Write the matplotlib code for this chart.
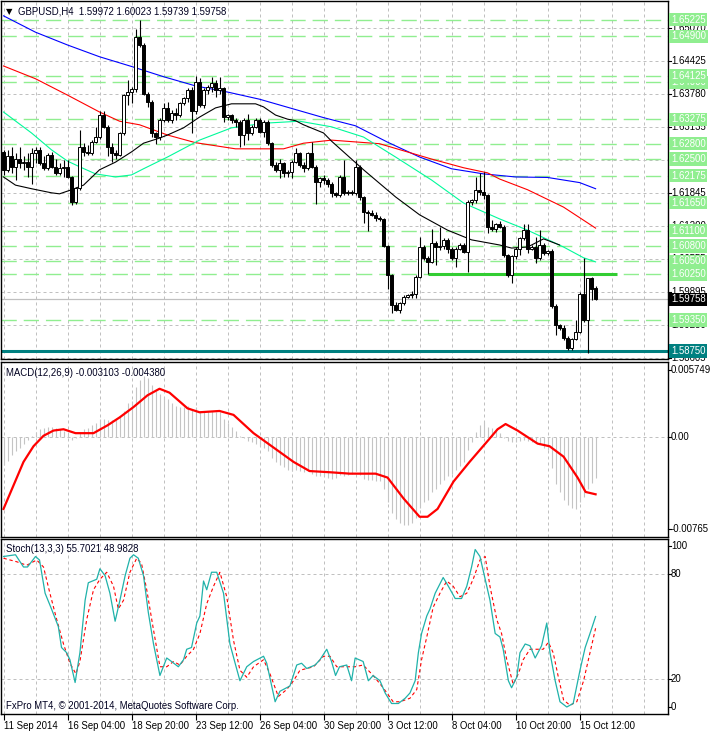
import matplotlib
matplotlib.use('Agg')
import matplotlib.pyplot as plt
from matplotlib.patches import Rectangle
import matplotlib.transforms as mtransforms

plt.rcParams['font.family'] = ['Liberation Sans', 'DejaVu Sans']

# ---------------- data (H4 bars, bar 0 = 11 Sep 2014) ----------------
opens = [1.6264, 1.6228, 1.6255, 1.6235, 1.6251, 1.6242, 1.6245, 1.6235, 1.6261, 1.6268,
         1.6242, 1.6232, 1.6258, 1.6235, 1.6222, 1.6232, 1.6235, 1.6215, 1.6166, 1.6194,
         1.6274, 1.6264, 1.6262, 1.6284, 1.6294, 1.6336, 1.6313, 1.6274, 1.6261, 1.6258,
         1.6300, 1.6375, 1.6382, 1.6386, 1.6488, 1.6473, 1.6378, 1.6362, 1.6300, 1.6294,
         1.6326, 1.6349, 1.6326, 1.6341, 1.6336, 1.6359, 1.6369, 1.6385, 1.6343, 1.6401,
         1.6356, 1.6385, 1.6391, 1.6398, 1.6385, 1.6388, 1.6333, 1.6336, 1.6326, 1.6323,
         1.6297, 1.6326, 1.6300, 1.6313, 1.6326, 1.6303, 1.6323, 1.6281, 1.6238, 1.6228,
         1.6242, 1.6222, 1.6225, 1.6245, 1.6261, 1.6238, 1.6232, 1.6261, 1.6235, 1.6206,
         1.6212, 1.6209, 1.6202, 1.6183, 1.6180, 1.6215, 1.6184, 1.6186, 1.6183, 1.6235,
         1.6176, 1.6147, 1.6144, 1.6141, 1.6134, 1.6132, 1.6080, 1.6023, 1.5964, 1.5955,
         1.5968, 1.5981, 1.5984, 1.5987, 1.6020, 1.6078, 1.6056, 1.6049, 1.6086, 1.6078,
         1.6080, 1.6092, 1.6075, 1.6056, 1.6075, 1.6082, 1.6069, 1.6167, 1.6170, 1.6189,
         1.6186, 1.6179, 1.6118, 1.6114, 1.6123, 1.6118, 1.6062, 1.6023, 1.6060, 1.6075,
         1.6095, 1.6111, 1.6075, 1.6078, 1.6056, 1.6082, 1.6066, 1.6071, 1.5963, 1.5925,
         1.5919, 1.5901, 1.5880, 1.5899, 1.5912, 1.5986, 1.5935, 1.6017, 1.59972]
highs = [1.6268, 1.6268, 1.6274, 1.6261, 1.6274, 1.6255, 1.6261, 1.6271, 1.6274, 1.6274,
         1.6255, 1.6261, 1.6264, 1.6251, 1.6242, 1.6248, 1.6248, 1.6217, 1.6196, 1.6307,
         1.6281, 1.6277, 1.6287, 1.6313, 1.6343, 1.6343, 1.6316, 1.6281, 1.6268, 1.6303,
         1.6378, 1.6405, 1.6391, 1.6504, 1.6522, 1.6476, 1.6382, 1.6365, 1.6303, 1.6330,
         1.6359, 1.6362, 1.6346, 1.6349, 1.6362, 1.6372, 1.6388, 1.6391, 1.6412, 1.6408,
         1.6388, 1.6395, 1.6410, 1.6404, 1.6410, 1.6391, 1.6339, 1.6339, 1.6330, 1.6326,
         1.6330, 1.6339, 1.6316, 1.6330, 1.6330, 1.6326, 1.6326, 1.6284, 1.6245, 1.6251,
         1.6245, 1.6228, 1.6248, 1.6271, 1.6264, 1.6245, 1.6264, 1.6284, 1.6238, 1.6215,
         1.6219, 1.6212, 1.6205, 1.6186, 1.6219, 1.6249, 1.6189, 1.6190, 1.6248, 1.6238,
         1.6178, 1.6150, 1.6150, 1.6147, 1.6138, 1.6134, 1.6082, 1.6026, 1.5970, 1.5971,
         1.5984, 1.5987, 1.5992, 1.6023, 1.6097, 1.6082, 1.6060, 1.6114, 1.6089, 1.6118,
         1.6095, 1.6095, 1.6078, 1.6078, 1.6086, 1.6086, 1.6170, 1.6172, 1.6215, 1.6222,
         1.6225, 1.6182, 1.6131, 1.6125, 1.6128, 1.6122, 1.6065, 1.6062, 1.6078, 1.6097,
         1.6123, 1.6123, 1.6082, 1.6097, 1.6111, 1.6085, 1.6072, 1.6074, 1.5966, 1.5928,
         1.5925, 1.5904, 1.5901, 1.5935, 1.5990, 1.6056, 1.6017, 1.6019, 1.60023]
lows = [1.6219, 1.6225, 1.6222, 1.6209, 1.6232, 1.6228, 1.6215, 1.6202, 1.6242, 1.6238,
        1.6228, 1.6228, 1.6232, 1.6219, 1.6219, 1.6215, 1.6212, 1.6160, 1.6163, 1.6189,
        1.6255, 1.6258, 1.6258, 1.6281, 1.6290, 1.6310, 1.6255, 1.6245, 1.6251, 1.6255,
        1.6297, 1.6356, 1.6359, 1.6382, 1.6470, 1.6375, 1.6352, 1.6294, 1.6279, 1.6287,
        1.6323, 1.6323, 1.6320, 1.6326, 1.6333, 1.6356, 1.6362, 1.6300, 1.6339, 1.6352,
        1.6349, 1.6378, 1.6382, 1.6372, 1.6378, 1.6323, 1.6326, 1.6320, 1.6313, 1.6274,
        1.6277, 1.6287, 1.6297, 1.6310, 1.6300, 1.6294, 1.6277, 1.6235, 1.6225, 1.6212,
        1.6215, 1.6215, 1.6212, 1.6242, 1.6235, 1.6225, 1.6228, 1.6232, 1.6163, 1.6196,
        1.6202, 1.6196, 1.6176, 1.6176, 1.6175, 1.6180, 1.6180, 1.6180, 1.6180, 1.6170,
        1.6125, 1.6110, 1.6138, 1.6128, 1.6128, 1.6078, 1.5996, 1.5949, 1.5952, 1.5950,
        1.5965, 1.5978, 1.5978, 1.5978, 1.6017, 1.6052, 1.6026, 1.6046, 1.6043, 1.6072,
        1.6075, 1.6066, 1.6052, 1.6039, 1.6072, 1.6066, 1.6030, 1.6160, 1.6165, 1.6180,
        1.6172, 1.6105, 1.6110, 1.6108, 1.6115, 1.6059, 1.6019, 1.6007, 1.6055, 1.6062,
        1.6092, 1.6067, 1.6072, 1.6046, 1.6052, 1.6062, 1.6062, 1.5958, 1.5906, 1.5915,
        1.5897, 1.5876, 1.5877, 1.5896, 1.5909, 1.5932, 1.5871, 1.5975, 1.59739]
closes = [1.6228, 1.6255, 1.6235, 1.6251, 1.6242, 1.6245, 1.6235, 1.6261, 1.6268, 1.6242,
          1.6232, 1.6258, 1.6235, 1.6222, 1.6232, 1.6235, 1.6215, 1.6166, 1.6194, 1.6274,
          1.6264, 1.6262, 1.6284, 1.6294, 1.6336, 1.6313, 1.6274, 1.6261, 1.6258, 1.6300,
          1.6375, 1.6382, 1.6386, 1.6488, 1.6473, 1.6378, 1.6362, 1.6300, 1.6294, 1.6326,
          1.6349, 1.6326, 1.6341, 1.6336, 1.6359, 1.6369, 1.6385, 1.6343, 1.6401, 1.6356,
          1.6385, 1.6391, 1.6398, 1.6385, 1.6388, 1.6333, 1.6336, 1.6326, 1.6323, 1.6297,
          1.6326, 1.6300, 1.6313, 1.6326, 1.6303, 1.6323, 1.6281, 1.6238, 1.6228, 1.6242,
          1.6222, 1.6225, 1.6245, 1.6261, 1.6238, 1.6232, 1.6261, 1.6235, 1.6206, 1.6212,
          1.6209, 1.6202, 1.6183, 1.6180, 1.6215, 1.6184, 1.6186, 1.6183, 1.6235, 1.6176,
          1.6147, 1.6144, 1.6141, 1.6134, 1.6132, 1.6080, 1.6023, 1.5964, 1.5955, 1.5968,
          1.5981, 1.5984, 1.5987, 1.6020, 1.6078, 1.6056, 1.6049, 1.6086, 1.6078, 1.6080,
          1.6092, 1.6075, 1.6056, 1.6075, 1.6082, 1.6069, 1.6167, 1.6170, 1.6189, 1.6186,
          1.6179, 1.6118, 1.6114, 1.6123, 1.6118, 1.6062, 1.6023, 1.6060, 1.6075, 1.6095,
          1.6111, 1.6075, 1.6078, 1.6056, 1.6082, 1.6066, 1.6071, 1.5963, 1.5925, 1.5919,
          1.5901, 1.5880, 1.5899, 1.5912, 1.5986, 1.5935, 1.6017, 1.5995, 1.59758]

# moving averages (bar index, value)
ma_blue = [(0, 1.6530), (8, 1.6498), (16, 1.6473), (24, 1.6450), (32, 1.6431), (40, 1.6411),
           (48, 1.6393), (56, 1.6381), (64, 1.6367), (72, 1.6349), (80, 1.6331), (88, 1.6315),
           (96, 1.6283), (104, 1.6254), (112, 1.6231), (120, 1.6221), (128, 1.6215),
           (136, 1.6214), (144, 1.6204), (148, 1.6192)]
ma_red = [(0, 1.6432), (8, 1.6407), (16, 1.6375), (24, 1.6342), (29, 1.6324), (34, 1.6317),
          (41, 1.6297), (48, 1.6282), (53, 1.6276), (58, 1.6270), (70, 1.6270), (75, 1.6281),
          (82, 1.6287), (94, 1.6280), (107, 1.6250), (115, 1.6233), (121, 1.6223),
          (124, 1.6211), (131, 1.6190), (140, 1.6156), (148, 1.6115)]
ma_green = [(0, 1.6342), (7, 1.6301), (12, 1.6268), (16, 1.6246), (19, 1.6235), (23, 1.6221),
            (28, 1.6215), (32, 1.6219), (35, 1.6231), (41, 1.6254), (49, 1.6287), (57, 1.6311),
            (65, 1.6320), (74, 1.6324), (82, 1.6313), (90, 1.6293), (98, 1.6254), (107, 1.6209),
            (115, 1.6164), (124, 1.6133), (131, 1.6111), (140, 1.6078), (145, 1.6057),
            (148, 1.6049)]
ma_black = [(0, 1.6215), (3, 1.6199), (7, 1.6192), (12, 1.6184), (14, 1.6182), (17, 1.6190),
            (20, 1.6199), (24, 1.6229), (28, 1.6244), (32, 1.6264), (35, 1.6281), (39, 1.6291),
            (41, 1.6297), (45, 1.6311), (49, 1.6332), (53, 1.6350), (57, 1.6358), (63, 1.6358),
            (65, 1.6352), (68, 1.6336), (71, 1.6328), (73, 1.6325), (75, 1.6317), (80, 1.6301),
            (82, 1.6285), (90, 1.6229), (98, 1.6176), (104, 1.6141), (111, 1.6111),
            (117, 1.6092), (124, 1.6082), (127, 1.6076), (131, 1.6078), (135, 1.6094),
            (139, 1.6082)]

levels_green = [1.59350, 1.60250, 1.60500, 1.60800, 1.61100, 1.61650, 1.62175, 1.62500,
                1.62800, 1.63275, 1.64000, 1.64125, 1.64900, 1.65225]
level_support = 1.58750
level_bid = 1.59758
level_resist = 1.60250
price_ticks = [1.65070, 1.64425, 1.63780, 1.63135, 1.62490, 1.61845, 1.61200, 1.60555,
               1.59895, 1.59250, 1.58605]

# MACD main (histogram) per bar
macd_hist = [-0.0021, -0.0018, -0.0014, -0.0011, -0.0008, -0.0005, -0.0002, 0.0001, 0.0004, 0.0006,
             0.0007, 0.0008, 0.0008, 0.0007, 0.0006, 0.0005, 0.0002, -0.0002, -0.0001, 0.0004,
             0.0006, 0.0007, 0.0009, 0.0011, 0.0014, 0.0014, 0.0013, 0.0013, 0.0013, 0.0015,
             0.0020, 0.0026, 0.0028, 0.0038, 0.0044, 0.0047, 0.0045, 0.0040, 0.0035, 0.0033,
             0.0031, 0.0029, 0.0026, 0.0024, 0.0023, 0.0023, 0.0024, 0.0021, 0.0023, 0.0020,
             0.0020, 0.0020, 0.0020, 0.0019, 0.0019, 0.0014, 0.0011, 0.0008, 0.0005, 0.0001,
             -0.0001, -0.0003, -0.0004, -0.0005, -0.0007, -0.0008, -0.0011, -0.0016, -0.0019, -0.0021,
             -0.0023, -0.0025, -0.0026, -0.0025, -0.0026, -0.0027, -0.0026, -0.0028, -0.0030, -0.0030,
             -0.0030, -0.0031, -0.0032, -0.0031, -0.0029, -0.0030, -0.0029, -0.0028, -0.0026, -0.0029,
             -0.0032, -0.0033, -0.0033, -0.0034, -0.0034, -0.0040, -0.0050, -0.0058, -0.0063, -0.0066,
             -0.0067, -0.0067, -0.0066, -0.0062, -0.0054, -0.0050, -0.0048, -0.0042, -0.0040, -0.0036,
             -0.0033, -0.0030, -0.0028, -0.0025, -0.0022, -0.0019, -0.0010, -0.0004, 0.0004, 0.0009,
             0.0012, 0.0008, 0.0007, 0.0005, 0.0003, -0.0001, -0.0003, -0.0004, -0.0004, -0.0003,
             -0.0002, -0.0003, -0.0004, -0.0004, -0.0005, -0.0008, -0.0010, -0.0024, -0.0036, -0.0042,
             -0.0048, -0.0052, -0.0054, -0.0055, -0.0050, -0.0046, -0.0040, -0.0035, -0.0031]
macd_signal = [(0, -0.0055), (2.5, -0.0037), (5, -0.0019), (7.5, -0.0007), (10, 0.0001),
               (12.5, 0.0005), (15, 0.0006), (18, 0.0003), (22.5, 0.0003), (26, 0.0009),
               (29, 0.0015), (32.5, 0.0023), (36, 0.0032), (39, 0.0037), (41.5, 0.0034),
               (46, 0.0022), (49, 0.0019), (54, 0.0020), (57.5, 0.0017), (62.5, 0.0003),
               (67.5, -0.0008), (72.5, -0.0019), (76.5, -0.0026), (82, -0.0027), (86.5, -0.0028),
               (93, -0.0028), (96, -0.0031), (100, -0.0047), (104, -0.0061), (106, -0.0061),
               (108.5, -0.0055), (112.5, -0.0034), (116.5, -0.0019), (121, -0.0003),
               (123.5, 0.0006), (125.5, 0.0010), (128.5, 0.0005), (133.5, -0.0005),
               (136.5, -0.0007), (140, -0.0015), (143.5, -0.0031), (145.5, -0.0042),
               (148, -0.00438)]

# Stochastic %K and %D (bar index, value)
stoch_k = [(0, 90), (3, 91), (5, 84), (6, 84), (8, 90), (9, 88), (10.4, 69), (12, 60), (13.7, 50),
           (14.5, 38), (15.8, 35), (16.6, 31), (17.9, 18), (19.1, 35), (20.4, 65), (21.2, 75),
           (23.3, 77), (24.1, 83), (25.4, 79), (26.6, 69), (27.9, 53), (29.1, 65), (30.4, 79),
           (31.6, 89), (32.5, 91), (33.7, 89), (35, 79), (36.2, 58), (37.5, 40), (39.1, 22),
           (40.8, 32), (42, 30), (43.7, 27), (45, 31), (45.8, 37), (47, 38), (48.3, 52),
           (49.1, 56), (50, 76), (50.8, 71), (52, 81), (53.3, 81), (55, 69), (56.6, 40),
           (57.9, 29), (59.1, 19), (60.8, 27), (62.5, 30), (65, 33), (65.8, 29), (67.9, 7),
           (69.1, 13), (71.6, 16), (73.3, 28), (74.5, 29), (75.8, 26), (77.9, 28), (79.1, 31),
           (80.8, 37), (82, 30), (83, 22), (84, 27), (85.8, 28), (87, 19), (87.9, 32), (89.9, 30),
           (91.2, 19), (92.4, 22), (94.1, 19), (95.4, 12), (97, 6), (98.7, 6), (100.4, 9),
           (101.6, 12), (102.9, 19), (103.7, 35), (104.5, 46), (105.8, 56), (106.6, 60),
           (107.9, 69), (109.9, 78), (111.2, 73), (112.9, 66), (114.5, 66), (115.8, 73),
           (117, 84), (117.9, 94), (119.1, 90), (119.9, 82), (121.6, 65), (122.9, 46),
           (124.1, 44), (124.9, 37), (126.2, 19), (127, 15), (128.3, 21), (129.1, 35),
           (130.4, 40), (131.6, 39), (132.9, 32), (134.5, 39), (135.8, 52), (136.6, 35),
           (137.9, 19), (139.1, 7), (140.8, 4), (142.4, 6), (144.1, 25), (145.4, 38),
           (146.6, 46), (148, 55.7)]
stoch_d = [(0, 89), (3.3, 87), (5.8, 85), (8.3, 88), (10, 84), (11.6, 69), (13.3, 54), (15, 40),
           (16.6, 29), (18.1, 23), (19.1, 30), (20.8, 54), (22.5, 71), (24.1, 77), (25.8, 81),
           (27.5, 73), (28.7, 60), (30, 65), (31.6, 81), (33.3, 89), (34.5, 86), (35.8, 71),
           (37.5, 48), (39.1, 27), (40.8, 27), (42.5, 30), (44.1, 28), (45.8, 33), (47.5, 37),
           (49.1, 46), (50.8, 63), (52.5, 73), (54.1, 81), (55.8, 67), (57.5, 42), (59.1, 25),
           (60.8, 21), (62.5, 27), (65, 31), (66.6, 23), (68.7, 10), (70.8, 14), (72.5, 19),
           (74.1, 25), (75.8, 26), (77.5, 27), (80, 33), (81.6, 33), (83.3, 27), (85.8, 27),
           (87.9, 27), (89.9, 28), (92.4, 22), (94.9, 15), (97.4, 7), (99.1, 7), (101.6, 9),
           (103.3, 14), (104.5, 31), (105.8, 44), (107.4, 61), (109.1, 69), (110.8, 76),
           (112.4, 73), (114.1, 67), (115.8, 69), (117.4, 77), (119.1, 88), (120.4, 90),
           (121.6, 73), (123.3, 54), (124.5, 46), (125.8, 31), (127.4, 17), (128.7, 23),
           (129.9, 31), (131.6, 37), (133.3, 37), (134.9, 37), (136.2, 41), (137.4, 35),
           (138.7, 21), (140, 8), (141.6, 5), (143.3, 7), (145, 19), (146.6, 35), (148, 48.98)]

date_labels = ['11 Sep 2014', '16 Sep 04:00', '18 Sep 20:00', '23 Sep 12:00', '26 Sep 04:00',
               '30 Sep 20:00', '3 Oct 12:00', '8 Oct 04:00', '10 Oct 20:00', '15 Oct 12:00']
date_bars = [0, 16, 32, 48, 64, 80, 96, 112, 128, 144]

# ---------------- figure ----------------
W, H = 712, 732
fig = plt.figure(figsize=(W / 100, H / 100), dpi=100)
fig.patch.set_facecolor('white')

def px_axes(left, top, right, bottom):
    return fig.add_axes([left / W, 1 - bottom / H, (right - left) / W, (bottom - top) / H])

ax = px_axes(1, 1, 668, 359)
ax_m = px_axes(1, 362, 668, 537)
ax_s = px_axes(1, 539, 668, 714)

GRID = '#c0c0c0'
FS = 6.9
XMIN, XMAX = -0.625, 166.1

for a in (ax, ax_m, ax_s):
    a.set_xlim(XMIN, XMAX)
    a.set_xticks([])
    a.set_yticks([])
    for s in a.spines.values():
        s.set_color('black')
        s.set_linewidth(1.0)
    for gx in range(0, 167, 8):
        a.axvline(gx, color=GRID, lw=0.72, ls=(0, (3, 3)), zorder=0.5)

def right_label(a, y, text, fc=None, tc='black', coords='data'):
    if coords == 'data':
        tr = mtransforms.blended_transform_factory(a.transAxes, a.transData)
    else:
        tr = a.transAxes
    kw = {}
    if fc is not None:
        kw['bbox'] = dict(boxstyle='square,pad=0.18', fc=fc, ec='none')
    a.text(1.0045, y, text, transform=tr, fontsize=FS, color=tc, ha='left', va='center',
           clip_on=False, zorder=6 if fc else 5, **kw)
    a.plot([1.0, 1.0045], [y, y], transform=tr, color='black', lw=0.8, clip_on=False)

# ---- main price panel ----
ax.set_ylim(1.58591, 1.65590)
for t in price_ticks:
    ax.axhline(t, color=GRID, lw=0.72, ls=(0, (3, 3)), zorder=0.5)
    right_label(ax, t, '%.5f' % t)
for lv in levels_green:
    ax.axhline(lv, color='#90ee90', lw=1.0, dashes=(11, 5), zorder=1)
ax.axhline(level_bid, color=GRID, lw=0.9, zorder=1.2)
ax.axhline(level_support, color='#008080', lw=2.2, zorder=1.5)
ax.plot([106, 153.4], [level_resist, level_resist], color='#32cd32', lw=2.2, zorder=1.5,
        solid_capstyle='butt')

for pts, col in ((ma_blue, '#0000ff'), (ma_red, '#ff0000'), (ma_green, '#00fa9a'),
                 (ma_black, '#000000')):
    xs, ys = zip(*pts)
    ax.plot(xs, ys, color=col, lw=0.8, zorder=2)

bw = 0.72
for i, (o, h, l, c) in enumerate(zip(opens, highs, lows, closes)):
    ax.vlines(i, l, h, color='black', lw=0.8, zorder=3)
    lo, hi = min(o, c), max(o, c)
    if hi - lo < 0.00004:
        hi = lo + 0.00004
    fc = 'white' if c >= o else 'black'
    ax.add_patch(Rectangle((i - bw / 2, lo), bw, hi - lo, fc=fc, ec='black', lw=0.7,
                           zorder=4))

for lv in levels_green:
    right_label(ax, lv, '%.5f' % lv, fc='#90ee90', tc='white')
right_label(ax, level_bid, '%.5f' % level_bid, fc='black', tc='white')
right_label(ax, level_support, '%.5f' % level_support, fc='#008080', tc='white')

ax.text(0.008, 0.972, '\u25BC', transform=ax.transAxes, fontsize=6, color='black',
        ha='left', va='center', family='DejaVu Sans')
ax.text(0.025, 0.972, 'GBPUSD,H4  1.59972 1.60023 1.59739 1.59758', transform=ax.transAxes,
        fontsize=FS, color='#000020', ha='left', va='center', zorder=7)

# ---- MACD panel ----
ax_m.set_ylim(-0.00765, 0.005749)
ax_m.axhline(0, color=GRID, lw=0.72, ls=(0, (3, 3)), zorder=0.5)
ax_m.vlines(range(len(macd_hist)), 0, macd_hist, color='#c4c4c4', lw=0.8, zorder=1)
sx, sy = zip(*macd_signal)
ax_m.plot(sx, sy, color='#ff0000', lw=1.6, zorder=2)
right_label(ax_m, 0.954, '0.005749', coords='axes')
right_label(ax_m, 0.0, '0.00')
right_label(ax_m, 0.046, '-0.00765', coords='axes')
ax_m.text(0.008, 0.94, 'MACD(12,26,9) -0.003103 -0.004380', transform=ax_m.transAxes,
          fontsize=FS, color='#000020', ha='left', va='center')

# ---- Stochastic panel ----
ax_s.set_ylim(0, 100)
for lv in (20, 80):
    ax_s.axhline(lv, color=GRID, lw=0.72, ls=(0, (3, 3)), zorder=0.5)
kx, ky = zip(*stoch_k)
dx, dy = zip(*stoch_d)
ax_s.plot(dx, dy, color='#ff0000', lw=0.8, ls=(0, (3, 2.5)), zorder=2)
ax_s.plot(kx, ky, color='#20b2aa', lw=0.9, zorder=3)
right_label(ax_s, 0.96, '100', coords='axes')
right_label(ax_s, 80, '80')
right_label(ax_s, 20, '20')
right_label(ax_s, 0.04, '0', coords='axes')
ax_s.text(0.008, 0.94, 'Stoch(13,3,3) 55.7021 48.9828', transform=ax_s.transAxes,
          fontsize=FS, color='#000020', ha='left', va='center')
ax_s.text(0.008, 0.045, 'FxPro MT4, \u00a9 2001-2014, MetaQuotes Software Corp.',
          transform=ax_s.transAxes, fontsize=FS, color='#000020', ha='left', va='center')

ax_s.set_xticks(date_bars)
ax_s.set_xticklabels(date_labels, fontsize=FS, ha='left')
ax_s.tick_params(axis='x', length=4, width=0.8, color='black', pad=1, direction='out')

fig.savefig('out.png', dpi=100, facecolor='white')
